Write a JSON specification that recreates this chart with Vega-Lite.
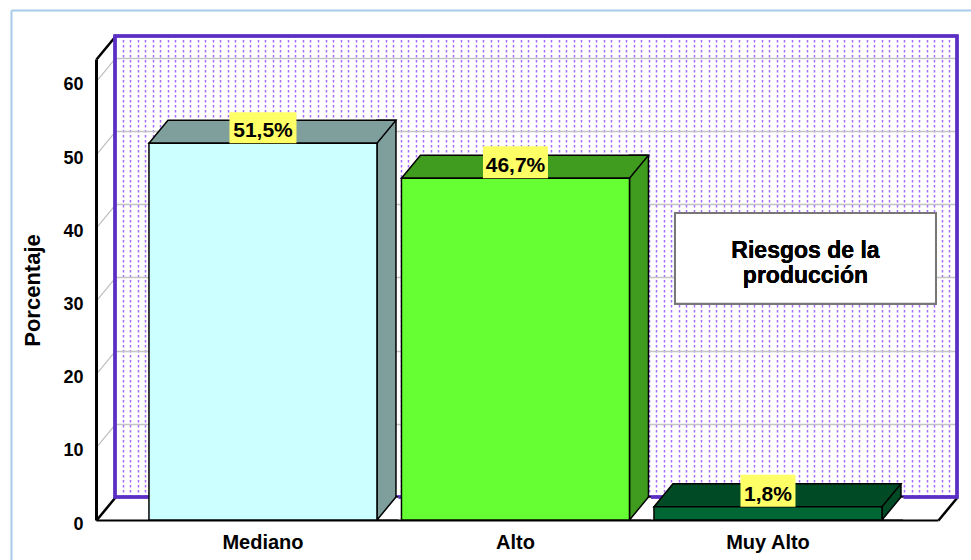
{
  "$schema": "https://vega.github.io/schema/vega-lite/v6.json",
  "width": 842,
  "height": 461,
  "autosize": {"type": "none"},
  "padding": {"left": 115, "top": 36, "right": 14, "bottom": 63},
  "background": "white",
  "config": {
    "font": "Liberation Sans",
    "locale": {"number": {"decimal": ",", "thousands": ".", "grouping": [3], "currency": ["", "%"]}},
    "view": {"stroke": null}
  },
  "data": {
    "values": [
      {"nivel": "Mediano", "pct": 51.5},
      {"nivel": "Alto", "pct": 46.7},
      {"nivel": "Muy Alto", "pct": 1.8}
    ]
  },
  "layer": [
    {
      "mark": {"type": "rect", "fill": null, "stroke": "#5B2EC4", "strokeWidth": 3},
      "encoding": {
        "x": {
          "datum": 0, "type": "quantitative",
          "scale": {"domain": [0, 112], "nice": false, "zero": false},
          "axis": {
            "orient": "top", "tickCount": 112, "title": null, "offset": 26,
            "labels": false, "ticks": false,
            "domain": true, "domainColor": "#A9CBEB", "domainWidth": 2,
            "grid": true, "gridDash": [2.5, 2.5], "gridColor": "#A56BFF", "gridWidth": 1.5,
            "encoding": {"domain": {"x": {"value": -104}, "x2": {"value": {"expr": "width + 14"}}}}
          }
        },
        "x2": {"datum": 112},
        "y": {
          "datum": 0, "type": "quantitative",
          "scale": {"domain": [0, 63], "nice": false},
          "axis": {
            "orient": "right", "values": [0], "title": null,
            "labels": false, "grid": false,
            "domain": true, "domainColor": "#A9CBEB", "domainWidth": 2,
            "ticks": true, "tickSize": 0, "tickColor": "black", "tickWidth": 2.5,
            "encoding": {
              "ticks": {"x2": {"value": -19}, "y2": {"value": {"expr": "scale('y', datum.value) + 23"}}},
              "domain": {"x": {"value": {"expr": "-width - 104"}}, "y": {"value": -26}, "y2": {"value": {"expr": "height + 63"}}}
            }
          }
        },
        "y2": {"datum": 63}
      }
    },
    {
      "encoding": {
        "x": {
          "field": "nivel", "type": "nominal", "sort": null,
          "scale": {"paddingInner": 0.097, "paddingOuter": 0.2158, "align": 0.486},
          "axis": {
            "orient": "bottom", "offset": 23, "title": null,
            "labelOffset": -19, "labelPadding": 12, "labelAngle": 0,
            "labelFontSize": 20, "labelFontWeight": "bold", "labelColor": "black",
            "ticks": false, "grid": false,
            "domain": true, "domainColor": "black", "domainWidth": 2,
            "encoding": {"domain": {"x": {"value": -19}, "x2": {"value": {"expr": "width - 19"}}}}
          }
        },
        "y": {
          "field": "pct", "type": "quantitative",
          "scale": {"domain": [0, 63], "nice": false},
          "axis": {
            "orient": "left", "offset": 19,
            "values": [0, 10, 20, 30, 40, 50, 60, 63],
            "labelExpr": "datum.value == 63 ? '' : datum.label",
            "labelOffset": 27, "labelPadding": 13,
            "labelFontSize": 18, "labelFontWeight": "bold", "labelColor": "black",
            "ticks": true, "tickSize": 0,
            "tickColor": {"condition": {"test": "datum.value == 0 || datum.value == 63", "value": "black"}, "value": "#BDBDBD"},
            "tickWidth": {"condition": {"test": "datum.value == 0 || datum.value == 63", "value": 2.5}, "value": 1.2},
            "grid": true,
            "gridColor": {"condition": {"test": "datum.value == 0 || datum.value == 63", "value": "transparent"}, "value": "#C4C4C4"},
            "gridWidth": 1.5,
            "domain": true, "domainColor": "black", "domainWidth": 3,
            "title": "Porcentaje", "titleFontSize": 22, "titleFontWeight": "bold", "titleColor": "black",
            "titleAngle": 270, "titleBaseline": "middle", "titleAlign": "center",
            "titleX": -64, "titleY": 254,
            "encoding": {
              "ticks": {
                "x2": {"value": 19},
                "y": {"value": {"expr": "scale('y', datum.value) + 23"}},
                "y2": {"value": {"expr": "scale('y', datum.value)"}}
              },
              "domain": {
                "y": {"value": {"expr": "scale('y', 63) + 23"}},
                "y2": {"value": {"expr": "scale('y', 0) + 23"}}
              }
            }
          }
        }
      },
      "layer": [
        {
          "mark": {"type": "bar", "width": 19, "xOffset": 104.5, "y2Offset": 23, "stroke": "black", "strokeWidth": 1.5},
          "encoding": {
            "y2": {"datum": 0},
            "fill": {"field": "nivel", "type": "nominal", "scale": {"domain": ["Mediano", "Alto", "Muy Alto"], "range": ["#7F9F9D", "#3F9C1F", "#004A26"]}, "legend": null}
          }
        },
        {
          "mark": {"type": "point", "shape": "M -114 0 L 114 0 L 95 23 L -133 23 Z", "size": 4, "filled": true, "opacity": 1, "stroke": "black", "strokeWidth": 1.5},
          "encoding": {
            "fill": {"field": "nivel", "type": "nominal", "legend": null}
          }
        },
        {
          "mark": {"type": "point", "shape": "M 116.5 0 L 114 0 L 95 23 L 116.5 23", "size": 4, "filled": true, "opacity": 1, "fill": "white", "stroke": "black", "strokeWidth": 1.5},
          "encoding": {"y": {"datum": 0}}
        },
        {
          "mark": {"type": "bar", "xOffset": -19, "yOffset": 23, "y2Offset": 23, "stroke": "black", "strokeWidth": 1.5},
          "encoding": {
            "y2": {"datum": 0},
            "color": {"field": "nivel", "type": "nominal", "scale": {"domain": ["Mediano", "Alto", "Muy Alto"], "range": ["#CCFFFF", "#66FF33", "#006633"]}, "legend": null}
          }
        },
        {
          "mark": {"type": "point", "size": 4, "filled": true, "opacity": 1, "fill": "#FFFF66", "strokeWidth": 0, "xOffset": -19, "yOffset": 23},
          "encoding": {
            "shape": {"field": "nivel", "type": "nominal", "scale": {"domain": ["Mediano", "Alto", "Muy Alto"], "range": ["M -33.5 -31 L 33.5 -31 L 33.5 0 L -33.5 0 Z", "M -32.5 -32 L 32.5 -32 L 32.5 0 L -32.5 0 Z", "M -27.5 -32 L 27.5 -32 L 27.5 0 L -27.5 0 Z"]}, "legend": null}
          }
        },
        {
          "mark": {"type": "text", "xOffset": -19, "yOffset": 17, "baseline": "alphabetic", "align": "center", "fontSize": 21, "fontWeight": "bold", "color": "black"},
          "encoding": {
            "text": {"field": "pct", "type": "quantitative", "format": "$.1f"}
          }
        },
        {
          "mark": {"type": "bar", "width": 261, "xOffset": 18.5, "fill": "white", "stroke": "#777777", "strokeWidth": 2},
          "encoding": {
            "x": {"datum": "Muy Alto"},
            "y": {"datum": 38.8},
            "y2": {"datum": 26.4}
          }
        },
        {
          "mark": {"type": "text", "xOffset": 18.5, "align": "center", "baseline": "middle", "fontSize": 23, "fontWeight": "bold", "lineHeight": 25, "color": "black"},
          "encoding": {
            "x": {"datum": "Muy Alto"},
            "y": {"datum": 33.6},
            "text": {"value": ["Riesgos de la", "producción"]}
          }
        }
      ]
    }
  ],
  "resolve": {"scale": {"x": "independent"}, "axis": {"x": "independent", "y": "independent"}}
}
